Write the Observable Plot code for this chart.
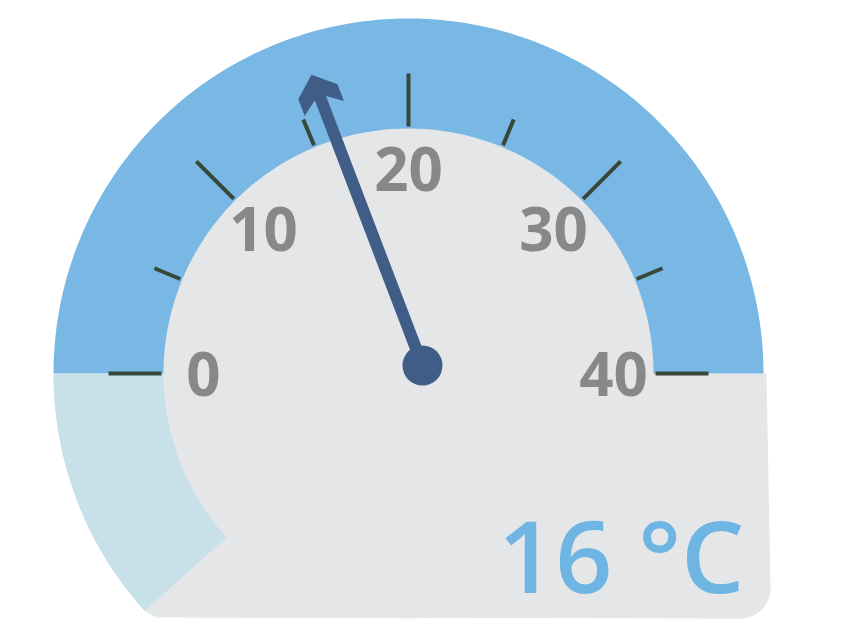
<!DOCTYPE html>
<html><head><meta charset="utf-8">
<script src="https://cdn.jsdelivr.net/npm/d3@7"></script>
<script src="https://cdn.jsdelivr.net/npm/@observablehq/plot@0.6"></script>
<style>body{margin:0;background:#fff;font-family:"Open Sans",sans-serif}</style>
</head><body><div id="chart"></div>
<script>
// ---- data ----
const scaleRange = [0, 40];
const majorTicks = [0, 10, 20, 30, 40];
const minorTicks = [5, 15, 25, 35];
const tickLabels = ["0", "10", "20", "30", "40"];
const readings = [16];
const unitLabel = "°C";

// ---- geometry (layout) ----
const W = 856, H = 635;
const R_OUT = 355, R_IN = 245, R_MAJ = 300, R_MIN = 275, R_LAB = 205, R_TIP = 314;
const deg = Math.PI / 180;
const ang = v => (180 - (v - scaleRange[0]) / (scaleRange[1] - scaleRange[0]) * 180) * deg;
const polar = (r, a) => [r * Math.cos(a), r * Math.sin(a)];
const arc = (r, a0, a1, n = 90) => d3.range(n + 1).map(i => polar(r, a0 + (a1 - a0) * i / n));

const PALE_END = 222 * deg;
const BOTTOM = -245, RIGHT = 362, CORNER = 30;
const upperBand = arc(R_OUT, 0, Math.PI, 120);
const paleWedge = [[0, 0], ...arc(R_OUT, Math.PI, PALE_END, 30)];
const baseShape = [
  ...arc(R_OUT, Math.PI, PALE_END, 30),
  [-252, BOTTOM + 1],
  [RIGHT - CORNER, BOTTOM],
  ...arc(CORNER, -90 * deg, 0, 14).map(([x, y]) => [x + RIGHT - CORNER, y + BOTTOM + CORNER]),
  [RIGHT - 4, 0]
];
const innerDisk = arc(R_IN, 0, 2 * Math.PI, 180);

// needle
const pivot = [14, 8];
const tip = polar(R_TIP, ang(readings[0]));
const ndx = tip[0] - pivot[0], ndy = tip[1] - pivot[1];
const NL = Math.hypot(ndx, ndy);
const ux = ndx / NL, uy = ndy / NL, px = uy, py = -ux;
const needleLocal = [[0, 0], [18, 21], [36, 21], [25, 6], [NL, 6], [NL, -6], [25, -6], [36, -21], [18, -21]];
const needle = needleLocal.map(([b, s]) => [tip[0] - ux * b + px * s, tip[1] - uy * b + py * s]);

const X = d => d[0], Y = d => d[1];

const chart = Plot.plot({
  width: W, height: H,
  margin: 0,
  x: {domain: [-408, W - 408], axis: null},
  y: {domain: [-(H - 373), 373], axis: null},
  style: {fontFamily: "'Open Sans', sans-serif", background: "#ffffff"},
  marks: [
    Plot.line(baseShape, {x: X, y: Y, fill: "#e5e6e8", stroke: "none"}),
    Plot.line(upperBand, {x: X, y: Y, fill: "#79b8e4", stroke: "none"}),
    Plot.line(paleWedge, {x: X, y: Y, fill: "#c8e0ea", stroke: "none"}),
    Plot.line(innerDisk, {x: X, y: Y, fill: "#e5e6e8", stroke: "none"}),
    Plot.link(majorTicks, {
      x1: v => polar(R_IN + 2, ang(v))[0], y1: v => polar(R_IN + 2, ang(v))[1],
      x2: v => polar(R_MAJ, ang(v))[0], y2: v => polar(R_MAJ, ang(v))[1],
      stroke: "#37483a", strokeWidth: 4
    }),
    Plot.link(minorTicks, {
      x1: v => polar(R_IN + 2, ang(v))[0], y1: v => polar(R_IN + 2, ang(v))[1],
      x2: v => polar(R_MIN, ang(v))[0], y2: v => polar(R_MIN, ang(v))[1],
      stroke: "#37483a", strokeWidth: 4
    }),
    Plot.text(majorTicks, {
      x: v => polar(R_LAB, ang(v))[0], y: v => polar(R_LAB, ang(v))[1],
      text: (v, i) => tickLabels[i],
      dy: 3,
      fontSize: 60, fontWeight: 700, fill: "#87888a", textAnchor: "middle", lineAnchor: "middle"
    }),
    Plot.line(needle, {x: X, y: Y, fill: "#3f5d87", stroke: "none"}),
    Plot.dot([pivot], {x: X, y: Y, r: 20, fill: "#3f5d87", stroke: "none"}),
    Plot.text(readings, {
      x: () => 336, y: () => -187,
      text: v => `${v} ${unitLabel}`,
      fontSize: 100, fontWeight: 600, fill: "#6fb5e3", textAnchor: "end", lineAnchor: "middle"
    })
  ]
});
document.getElementById("chart").appendChild(chart);
</script>
</body></html>
